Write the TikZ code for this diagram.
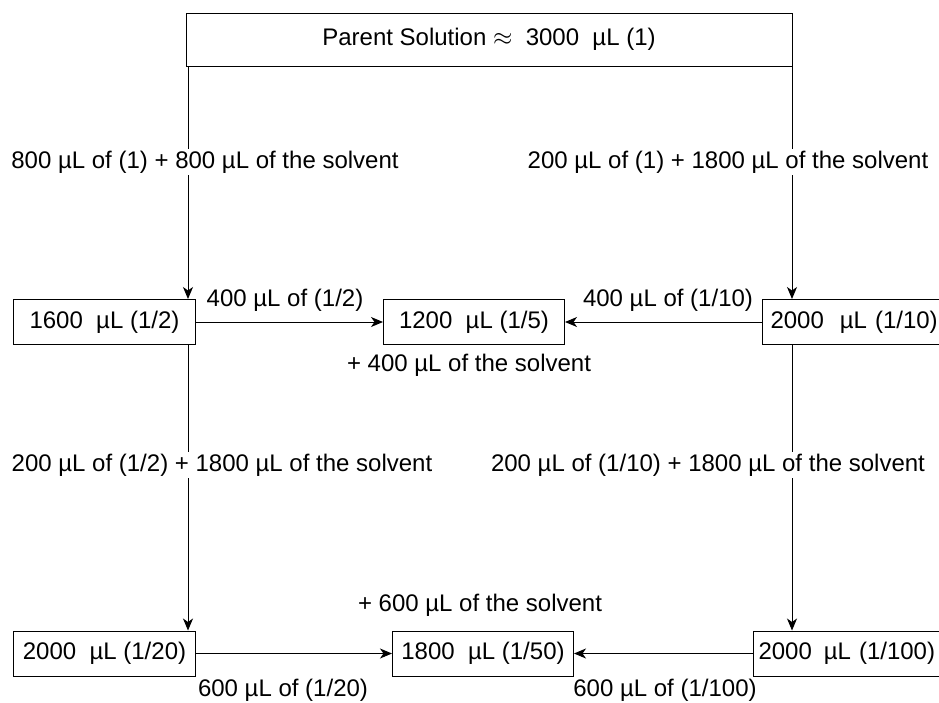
\documentclass[tikz,border=0pt]{standalone}
\usepackage{fontspec}
\setmainfont{Liberation Sans}
\usetikzlibrary{arrows.meta}
\begin{document}
\begin{tikzpicture}[x=1pt,y=-1pt,
  every node/.style={font=\fontsize{24}{28}\selectfont, inner sep=0pt},
  sample/.style={draw, line width=1pt, minimum height=45pt, anchor=west, align=center},
  edgebox/.style={draw, line width=1pt, minimum height=45pt, anchor=west, align=left,
    inner xsep=8pt, text width=200pt},
  lbl/.style={fill=white, inner sep=2pt},
  flow/.style={line width=1pt, -{Stealth[length=12pt,width=10pt,inset=3.5pt]}}]
\useasboundingbox (0,0) rectangle (939,702);

% parent stock
\node[draw, line width=1pt, minimum width=606pt, minimum height=53pt] (top) at (489,39.5)
  {Parent Solution $\approx$~~3000~~µL (1)};

% column guides
\coordinate (colL) at (188,0);
\coordinate (colR) at (792,0);

% first dilution row
\node[sample, minimum width=182pt] (b12)  at (13,322)  {1600~~µL (1/2)};
\node[sample, minimum width=181pt] (b15)  at (383,322) {1200~~µL (1/5)};
\node[edgebox] (b110) at (762,322) {2000~~µL (1/10)};

% second dilution row
\node[sample, minimum width=182pt] (b120)  at (13,653.5)  {2000~~µL (1/20)};
\node[sample, minimum width=181pt] (b150)  at (392,653.5) {1800~~µL (1/50)};
\node[edgebox, inner xsep=5pt] (b1100) at (753,653.5) {2000\,~µL (1/100)};

% parent -> first row
\draw[flow] (top.south -| colL) -- (b12.north -| colL);
\draw[flow] (top.south -| colR) -- (b110.north -| colR);
\node[lbl] (l1) at (205,162) {800 µL of (1) + 800 µL of the solvent};
\node[lbl] (l2) at (728,162) {200 µL of (1) + 1800 µL of the solvent};

% first row -> 1/5
\draw[flow] (b12.east) -- (b15.west);
\draw[flow] (b110.west) -- (b15.east);
\node (l3) at (285,300) {400 µL of (1/2)};
\node (l4) at (668,300) {400 µL of (1/10)};
\node (l5) at (469,365) {+ 400 µL of the solvent};

% first row -> second row
\draw[flow] (b12.south -| colL) -- (b120.north -| colL);
\draw[flow] (b110.south -| colR) -- (b1100.north -| colR);
\node[lbl] (l6) at (222,465) {200 µL of (1/2) + 1800 µL of the solvent};
\node[lbl] (l7) at (708,465) {200 µL of (1/10) + 1800 µL of the solvent};

% second row -> 1/50
\draw[flow] (b120.east) -- (b150.west);
\draw[flow] (b1100.west) -- (b150.east);
\node (l8) at (480,605) {+ 600 µL of the solvent};
\node (l9) at (283,690) {600 µL of (1/20)};
\node (l10) at (665,690) {600 µL of (1/100)};
\end{tikzpicture}
\end{document}
